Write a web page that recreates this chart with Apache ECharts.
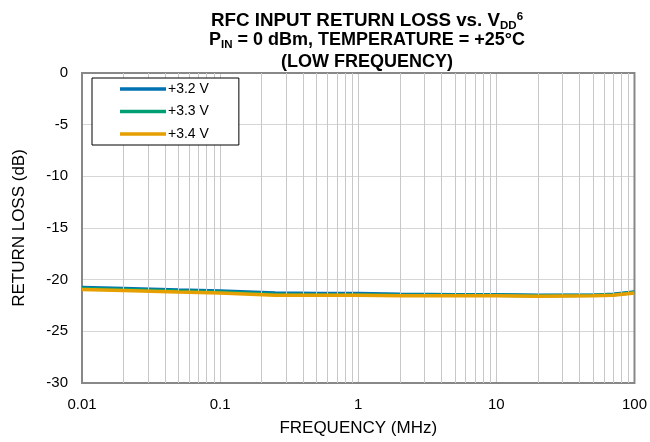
<!DOCTYPE html>
<html><head><meta charset="utf-8">
<script src="https://cdn.jsdelivr.net/npm/echarts@6/dist/echarts.min.js"></script>
<style>html,body{margin:0;padding:0;background:#fff}#c{width:650px;height:442px}</style>
</head><body><div id="c"></div>
<script>
const freqs = [0.01, 0.02, 0.05, 0.1, 0.25, 0.5, 1, 2, 5, 10, 20, 50, 70, 100];
const v32 = [-20.75, -20.85, -21.0, -21.1, -21.3, -21.35, -21.35, -21.4, -21.45, -21.45, -21.5, -21.5, -21.4, -21.2];
const v33 = [-20.85, -20.95, -21.1, -21.2, -21.4, -21.45, -21.45, -21.5, -21.5, -21.5, -21.55, -21.5, -21.45, -21.25];
const v34 = [-20.95, -21.05, -21.2, -21.3, -21.5, -21.5, -21.5, -21.55, -21.55, -21.55, -21.6, -21.55, -21.5, -21.3];
const seriesNames = ['+3.2 V', '+3.3 V', '+3.4 V'];
const seriesColors = ['#0072B2', '#009E73', '#E69F00'];
const yTicks = [0, -5, -10, -15, -20, -25, -30];
const xTickLabels = ['0.01', '0.1', '1', '10', '100'];
const minorGrid = [0.02,0.03,0.04,0.05,0.06,0.07,0.08,0.09,
                   0.2,0.3,0.4,0.5,0.6,0.7,0.8,0.9,
                   2,3,4,5,6,7,8,9,
                   20,30,40,50,60,70,80,90];
const titleLines = [
  '{b1|RFC INPUT RETURN LOSS vs. V}{sub|DD}{sup|6}',
  '{b|P}{sub|IN}{b| = 0 dBm, TEMPERATURE = +25°C}',
  '{b|(LOW FREQUENCY)}'
];

const FF = 'Liberation Sans, Arial, sans-serif';
const chart = echarts.init(document.getElementById('c'), null, {renderer: 'canvas'});
const vals = [v32, v33, v34];
const series = vals.map((arr, i) => ({
  name: seriesNames[i],
  type: 'line',
  data: freqs.map((f, j) => [f, arr[j]]),
  symbol: 'none',
  lineStyle: {width: 3.5, color: seriesColors[i]},
  itemStyle: {color: seriesColors[i]},
  z: 3 + i,
  animation: false
}));
series.push({
  name: 'minor', type: 'line', data: [], silent: true, z: 1,
  markLine: {
    silent: true, symbol: 'none', animation: false,
    label: {show: false},
    lineStyle: {color: '#c8c8c8', width: 1, type: 'solid'},
    data: minorGrid.map(x => ({xAxis: x}))
  }
});

const fmt = v => {
  const s = String(Number(Number(v).toPrecision(6)));
  return xTickLabels.indexOf(s) >= 0 ? s : '';
};

const rich = {
  b1: {fontSize: 18.8, fontWeight: 'bold', fill: '#000', fontFamily: FF},
  b: {fontSize: 18, fontWeight: 'bold', fill: '#000', fontFamily: FF},
  sub: {fontSize: 11.5, fontWeight: 'bold', fill: '#000', fontFamily: FF, padding: [10, 0, 0, 0]},
  sup: {fontSize: 11.5, fontWeight: 'bold', fill: '#000', fontFamily: FF, padding: [0, 0, 9, 0]}
};
const titleY = [21, 40, 62];

chart.setOption({
  animation: false,
  backgroundColor: '#fff',
  textStyle: {fontFamily: FF},
  graphic: titleLines.map((t, i) => ({
    type: 'text', x: 367, y: titleY[i], z: 20,
    style: {text: t, align: 'center', verticalAlign: 'middle', fontFamily: FF, rich: rich}
  })),
  legend: {
    data: seriesNames,
    orient: 'vertical',
    left: 92, top: 78,
    padding: [3, 30, 3, 28],
    itemGap: 6.5,
    itemWidth: 46, itemHeight: 3.5,
    icon: 'rect',
    backgroundColor: '#fff',
    borderColor: '#000', borderWidth: 1,
    borderRadius: 0,
    textStyle: {fontSize: 14, lineHeight: 16, color: '#000', fontFamily: FF, padding: [0,0,0,-3]},
    z: 10
  },
  grid: {
    left: 82, right: 14, top: 73, bottom: 58,
    show: true, borderColor: '#888', borderWidth: 2, backgroundColor: 'transparent', z: 2
  },
  xAxis: {
    type: 'log', logBase: 10, min: 0.01, max: 100,
    name: 'FREQUENCY (MHz)', nameLocation: 'middle', nameGap: 37,
    nameTextStyle: {fontSize: 17, color: '#000', fontFamily: FF},
    axisLine: {show: false},
    axisTick: {show: false},
    axisLabel: {fontSize: 15, color: '#000', margin: 14, formatter: fmt, fontFamily: FF},
    splitLine: {show: true, lineStyle: {color: '#c8c8c8', width: 1}}
  },
  yAxis: {
    type: 'value', min: -30, max: 0, interval: 5,
    name: 'RETURN LOSS (dB)', nameLocation: 'middle', nameGap: 54,
    nameTextStyle: {fontSize: 17, color: '#000', fontFamily: FF},
    axisLine: {show: false},
    axisTick: {show: false},
    axisLabel: {fontSize: 15, color: '#000', margin: 14, formatter: v => yTicks.indexOf(v) >= 0 ? String(v) : '', fontFamily: FF},
    splitLine: {show: true, lineStyle: {color: '#d6d6d6', width: 1}}
  },
  series: series
});
</script></body></html>
